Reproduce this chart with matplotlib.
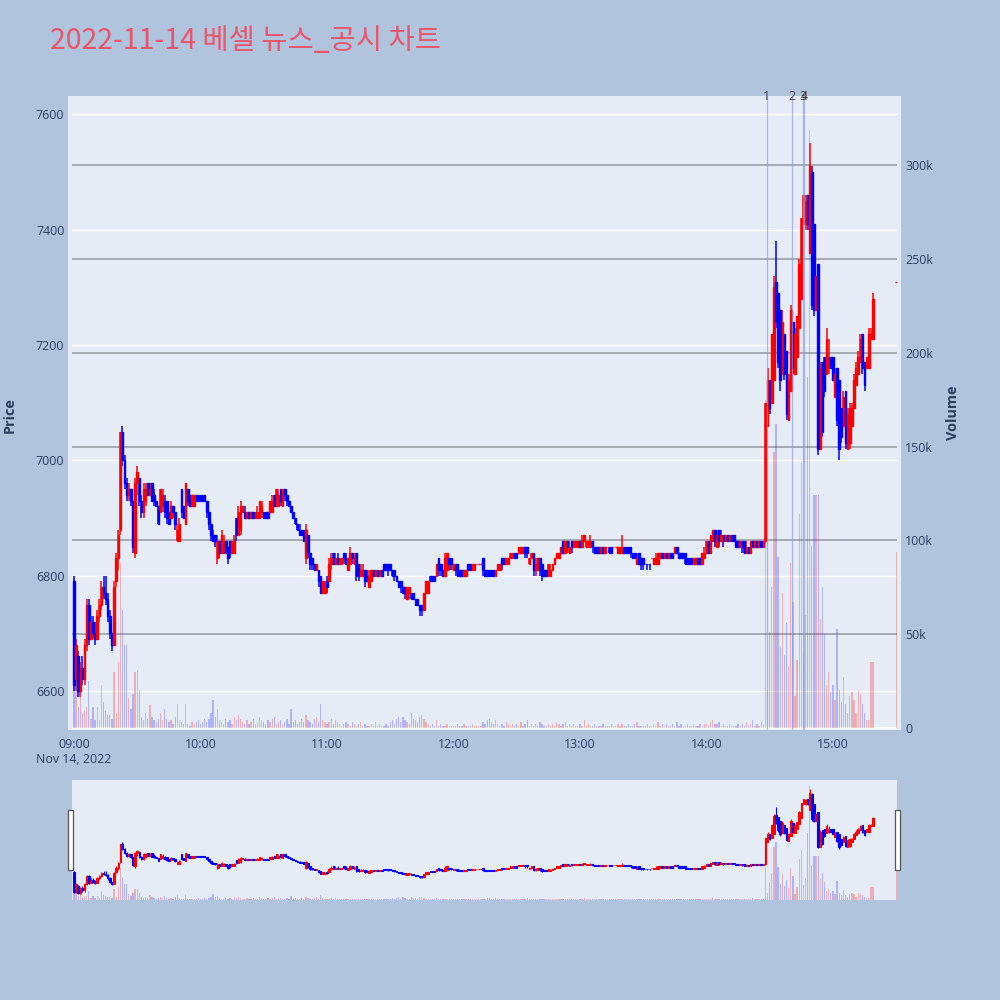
import matplotlib
matplotlib.use("Agg")
import matplotlib.pyplot as plt
from matplotlib.patches import Rectangle
import matplotlib.transforms as mtransforms

# ---------------- data ----------------
title_text = "2022-11-14 베셀 뉴스_공시 차트"

# minutes after 09:00 (1-minute candles 09:00-15:19, closing auction 15:30)
minutes = list(range(380)) + [390]

opens = [
    6790, 6620, 6660, 6600, 6640, 6620, 6680, 6750, 6690, 6720,
    6700, 6690, 6730, 6750, 6780, 6770, 6760, 6730, 6700, 6680,
    6790, 6830, 6880, 7050, 7000, 6960, 6940, 6950, 6930, 6840,
    6960, 6970, 6930, 6910, 6930, 6960, 6940, 6960, 6940, 6930,
    6920, 6910, 6920, 6930, 6930, 6910, 6900, 6920, 6910, 6860,
    6860, 6950, 6920, 6890, 6950, 6940, 6920, 6920, 6940, 6940,
    6940, 6940, 6940, 6930, 6910, 6890, 6870, 6870, 6830, 6860,
    6840, 6840, 6860, 6850, 6860, 6840, 6840, 6900, 6870, 6880,
    6910, 6910, 6900, 6910, 6900, 6910, 6900, 6900, 6900, 6910,
    6910, 6910, 6910, 6910, 6910, 6940, 6920, 6920, 6950, 6920,
    6950, 6940, 6930, 6920, 6910, 6900, 6890, 6880, 6880, 6880,
    6830, 6870, 6840, 6830, 6820, 6810, 6810, 6800, 6770, 6770,
    6790, 6790, 6820, 6840, 6820, 6830, 6820, 6820, 6840, 6830,
    6810, 6820, 6840, 6820, 6840, 6820, 6800, 6800, 6810, 6800,
    6780, 6790, 6810, 6800, 6810, 6800, 6810, 6820, 6820, 6820,
    6820, 6810, 6810, 6800, 6790, 6790, 6780, 6780, 6760, 6770,
    6770, 6770, 6760, 6760, 6750, 6750, 6740, 6770, 6770, 6800,
    6800, 6800, 6800, 6830, 6820, 6810, 6800, 6810, 6830, 6830,
    6810, 6820, 6820, 6810, 6810, 6800, 6800, 6820, 6820, 6810,
    6810, 6820, 6820, 6820, 6830, 6810, 6810, 6810, 6810, 6810,
    6800, 6810, 6810, 6830, 6830, 6820, 6820, 6830, 6830, 6840,
    6840, 6840, 6840, 6840, 6850, 6850, 6820, 6830, 6840, 6810,
    6810, 6830, 6820, 6810, 6810, 6800, 6800, 6810, 6820, 6830,
    6830, 6840, 6860, 6840, 6860, 6840, 6860, 6850, 6850, 6850,
    6860, 6850, 6860, 6850, 6850, 6850, 6860, 6850, 6850, 6850,
    6840, 6850, 6840, 6850, 6850, 6850, 6850, 6850, 6840, 6840,
    6840, 6850, 6850, 6850, 6850, 6840, 6840, 6820, 6840, 6830,
    6830, 6820, 6820, 6820, 6830, 6820, 6820, 6820, 6830, 6840,
    6830, 6840, 6830, 6840, 6840, 6840, 6850, 6840, 6840, 6840,
    6840, 6830, 6830, 6830, 6820, 6820, 6830, 6830, 6820, 6830,
    6840, 6860, 6840, 6860, 6880, 6850, 6880, 6860, 6870, 6860,
    6870, 6860, 6870, 6870, 6860, 6860, 6850, 6860, 6860, 6840,
    6850, 6840, 6860, 6850, 6860, 6850, 6860, 6850, 6860, 7060,
    7140, 7100, 7140, 7310, 7290, 7260, 7150, 7220, 7190, 7070,
    7120, 7240, 7150, 7180, 7230, 7280, 7410, 7410, 7460, 7360,
    7500, 7410, 7260, 7340, 7020, 7170, 7180, 7150, 7160, 7180,
    7180, 7110, 7160, 7140, 7090, 7060, 7120, 7020, 7030, 7060,
    7090, 7130, 7150, 7170, 7220, 7170, 7160, 7160, 7210, 7210,
    7310,
]

highs = [
    6800, 6690, 6670, 6650, 6660, 6690, 6760, 6760, 6730, 6730,
    6720, 6740, 6760, 6790, 6800, 6800, 6770, 6740, 6700, 6790,
    6840, 6880, 7050, 7060, 7010, 6970, 6960, 6950, 6930, 6970,
    6990, 6970, 6940, 6960, 6960, 6960, 6960, 6960, 6950, 6930,
    6920, 6950, 6950, 6940, 6930, 6910, 6930, 6920, 6910, 6890,
    6900, 6950, 6920, 6960, 6950, 6940, 6940, 6940, 6940, 6940,
    6940, 6940, 6940, 6930, 6910, 6890, 6880, 6870, 6870, 6860,
    6880, 6870, 6860, 6850, 6860, 6860, 6870, 6900, 6920, 6930,
    6920, 6920, 6910, 6910, 6910, 6910, 6910, 6920, 6930, 6930,
    6910, 6910, 6910, 6930, 6940, 6940, 6950, 6950, 6950, 6950,
    6950, 6940, 6930, 6920, 6910, 6900, 6890, 6890, 6880, 6880,
    6890, 6870, 6840, 6830, 6820, 6820, 6810, 6800, 6790, 6790,
    6800, 6830, 6840, 6840, 6840, 6840, 6830, 6830, 6840, 6840,
    6830, 6850, 6840, 6840, 6840, 6820, 6820, 6820, 6810, 6810,
    6810, 6810, 6810, 6810, 6810, 6810, 6810, 6820, 6820, 6820,
    6820, 6810, 6810, 6800, 6790, 6790, 6780, 6780, 6780, 6780,
    6770, 6770, 6760, 6760, 6750, 6750, 6770, 6790, 6790, 6800,
    6800, 6800, 6820, 6830, 6820, 6810, 6840, 6840, 6830, 6830,
    6820, 6820, 6820, 6810, 6810, 6810, 6810, 6820, 6820, 6820,
    6820, 6820, 6820, 6820, 6830, 6810, 6810, 6810, 6810, 6810,
    6810, 6820, 6820, 6830, 6830, 6830, 6830, 6840, 6840, 6840,
    6840, 6850, 6850, 6850, 6850, 6850, 6830, 6840, 6840, 6830,
    6830, 6830, 6820, 6810, 6810, 6820, 6820, 6820, 6830, 6840,
    6840, 6850, 6860, 6860, 6860, 6860, 6860, 6860, 6860, 6860,
    6860, 6870, 6870, 6860, 6860, 6870, 6860, 6850, 6850, 6850,
    6850, 6850, 6850, 6850, 6850, 6850, 6850, 6850, 6850, 6850,
    6870, 6850, 6850, 6850, 6850, 6840, 6840, 6840, 6840, 6830,
    6830, 6820, 6820, 6820, 6830, 6830, 6840, 6840, 6840, 6840,
    6840, 6840, 6840, 6840, 6840, 6850, 6850, 6840, 6840, 6840,
    6840, 6830, 6830, 6830, 6830, 6830, 6830, 6830, 6840, 6850,
    6860, 6860, 6870, 6880, 6880, 6880, 6880, 6880, 6870, 6870,
    6870, 6870, 6870, 6870, 6860, 6860, 6860, 6860, 6860, 6860,
    6850, 6860, 6860, 6860, 6860, 6860, 6860, 6860, 7100, 7160,
    7140, 7220, 7320, 7380, 7290, 7260, 7260, 7220, 7190, 7150,
    7270, 7240, 7230, 7250, 7350, 7420, 7460, 7460, 7460, 7550,
    7510, 7410, 7320, 7340, 7170, 7170, 7180, 7230, 7210, 7180,
    7180, 7160, 7160, 7140, 7090, 7120, 7120, 7090, 7100, 7100,
    7150, 7170, 7190, 7220, 7220, 7170, 7180, 7230, 7230, 7290,
    7310,
]

lows = [
    6600, 6600, 6590, 6590, 6610, 6610, 6670, 6680, 6690, 6690,
    6680, 6690, 6720, 6740, 6760, 6750, 6720, 6690, 6670, 6680,
    6780, 6810, 6870, 6990, 6950, 6930, 6930, 6920, 6840, 6830,
    6940, 6920, 6900, 6900, 6920, 6940, 6940, 6930, 6920, 6920,
    6890, 6910, 6910, 6900, 6890, 6890, 6900, 6900, 6880, 6860,
    6860, 6900, 6900, 6890, 6920, 6920, 6920, 6920, 6930, 6930,
    6930, 6930, 6930, 6900, 6880, 6860, 6860, 6850, 6820, 6830,
    6840, 6840, 6840, 6820, 6830, 6840, 6840, 6860, 6870, 6870,
    6910, 6900, 6900, 6900, 6900, 6900, 6900, 6900, 6900, 6900,
    6900, 6900, 6900, 6910, 6910, 6920, 6920, 6920, 6920, 6920,
    6930, 6920, 6920, 6910, 6900, 6890, 6880, 6870, 6870, 6860,
    6820, 6830, 6810, 6810, 6810, 6810, 6780, 6770, 6770, 6770,
    6770, 6790, 6810, 6820, 6820, 6820, 6820, 6820, 6820, 6820,
    6810, 6820, 6820, 6820, 6790, 6790, 6800, 6800, 6780, 6790,
    6780, 6790, 6800, 6800, 6800, 6800, 6800, 6810, 6810, 6800,
    6810, 6800, 6790, 6790, 6780, 6770, 6770, 6760, 6760, 6760,
    6760, 6760, 6750, 6750, 6730, 6730, 6740, 6770, 6770, 6790,
    6790, 6790, 6800, 6800, 6800, 6800, 6800, 6810, 6810, 6810,
    6810, 6800, 6800, 6800, 6800, 6800, 6800, 6810, 6810, 6810,
    6810, 6820, 6820, 6820, 6800, 6800, 6800, 6800, 6800, 6800,
    6800, 6810, 6810, 6810, 6820, 6820, 6820, 6830, 6830, 6830,
    6830, 6840, 6840, 6840, 6830, 6830, 6820, 6830, 6800, 6800,
    6810, 6800, 6790, 6800, 6800, 6800, 6800, 6810, 6820, 6830,
    6830, 6840, 6840, 6840, 6840, 6840, 6840, 6850, 6850, 6850,
    6850, 6850, 6860, 6850, 6850, 6850, 6840, 6840, 6840, 6840,
    6840, 6840, 6840, 6850, 6840, 6840, 6850, 6850, 6840, 6840,
    6840, 6840, 6840, 6840, 6830, 6830, 6830, 6820, 6820, 6810,
    6810, 6820, 6810, 6810, 6830, 6820, 6820, 6820, 6830, 6830,
    6830, 6830, 6830, 6830, 6830, 6840, 6840, 6830, 6830, 6830,
    6820, 6820, 6820, 6820, 6820, 6820, 6820, 6820, 6820, 6830,
    6840, 6840, 6840, 6860, 6850, 6850, 6850, 6860, 6850, 6860,
    6860, 6860, 6860, 6860, 6850, 6850, 6850, 6840, 6840, 6840,
    6840, 6840, 6850, 6850, 6850, 6850, 6850, 6850, 6860, 7060,
    7080, 7100, 7140, 7230, 7160, 7120, 7150, 7140, 7070, 7070,
    7120, 7150, 7150, 7180, 7230, 7280, 7410, 7400, 7400, 7360,
    7260, 7250, 7260, 7010, 7020, 7040, 7110, 7150, 7150, 7160,
    7140, 7110, 7060, 7000, 7030, 7060, 7020, 7020, 7020, 7060,
    7090, 7130, 7150, 7170, 7150, 7120, 7160, 7160, 7210, 7210,
    7310,
]

closes = [
    6610, 6680, 6600, 6640, 6620, 6680, 6750, 6690, 6720, 6700,
    6690, 6730, 6750, 6780, 6770, 6760, 6730, 6700, 6680, 6780,
    6830, 6870, 7050, 7000, 6960, 6940, 6950, 6930, 6850, 6960,
    6980, 6930, 6910, 6950, 6950, 6940, 6950, 6930, 6930, 6920,
    6890, 6950, 6940, 6910, 6900, 6890, 6920, 6910, 6890, 6880,
    6890, 6910, 6900, 6960, 6930, 6920, 6940, 6940, 6930, 6930,
    6930, 6930, 6930, 6910, 6890, 6870, 6860, 6860, 6860, 6840,
    6870, 6860, 6840, 6830, 6840, 6860, 6860, 6870, 6910, 6920,
    6920, 6900, 6910, 6900, 6910, 6900, 6910, 6910, 6930, 6920,
    6900, 6900, 6900, 6930, 6930, 6920, 6950, 6940, 6930, 6950,
    6940, 6930, 6920, 6910, 6900, 6890, 6880, 6870, 6870, 6860,
    6880, 6840, 6820, 6820, 6810, 6820, 6790, 6770, 6790, 6780,
    6780, 6820, 6830, 6820, 6830, 6820, 6830, 6830, 6830, 6820,
    6830, 6840, 6830, 6830, 6800, 6800, 6810, 6810, 6790, 6790,
    6800, 6810, 6800, 6810, 6800, 6810, 6800, 6810, 6810, 6810,
    6810, 6800, 6800, 6790, 6780, 6780, 6770, 6770, 6780, 6780,
    6760, 6760, 6750, 6750, 6740, 6740, 6770, 6790, 6790, 6790,
    6790, 6790, 6820, 6810, 6810, 6800, 6830, 6840, 6820, 6820,
    6820, 6810, 6800, 6800, 6800, 6810, 6810, 6810, 6810, 6820,
    6820, 6820, 6820, 6820, 6810, 6800, 6800, 6800, 6800, 6800,
    6810, 6820, 6820, 6820, 6820, 6830, 6830, 6840, 6840, 6830,
    6830, 6850, 6850, 6850, 6840, 6840, 6830, 6840, 6810, 6820,
    6830, 6810, 6800, 6800, 6800, 6820, 6810, 6820, 6830, 6840,
    6840, 6850, 6840, 6860, 6850, 6850, 6850, 6860, 6860, 6860,
    6850, 6860, 6870, 6860, 6860, 6860, 6850, 6840, 6840, 6840,
    6850, 6840, 6850, 6850, 6840, 6840, 6850, 6850, 6850, 6850,
    6850, 6840, 6840, 6840, 6840, 6830, 6830, 6830, 6820, 6820,
    6820, 6820, 6820, 6820, 6830, 6830, 6830, 6840, 6840, 6830,
    6840, 6830, 6840, 6830, 6830, 6850, 6840, 6830, 6830, 6830,
    6820, 6820, 6820, 6820, 6830, 6830, 6820, 6820, 6840, 6840,
    6860, 6840, 6870, 6880, 6860, 6870, 6860, 6870, 6860, 6870,
    6860, 6870, 6860, 6860, 6850, 6850, 6860, 6850, 6840, 6850,
    6840, 6860, 6850, 6860, 6850, 6860, 6850, 6860, 7100, 7140,
    7090, 7220, 7300, 7240, 7170, 7140, 7240, 7150, 7080, 7140,
    7260, 7160, 7220, 7250, 7340, 7420, 7460, 7450, 7410, 7510,
    7270, 7260, 7320, 7020, 7160, 7050, 7120, 7210, 7180, 7160,
    7140, 7150, 7070, 7020, 7040, 7110, 7030, 7080, 7090, 7090,
    7140, 7160, 7180, 7210, 7160, 7130, 7180, 7220, 7220, 7280,
    7310,
]

# traded volume, thousands of shares
volumes_k = [
    80, 19, 11, 19, 8, 9, 11, 25, 5, 11,
    4, 11, 4, 23, 14, 9, 7, 7, 5, 30,
    8, 35, 88, 63, 44, 44, 16, 10, 18, 30,
    31, 20, 6, 4, 8, 5, 12, 6, 4, 3,
    5, 8, 4, 10, 5, 3, 4, 2, 6, 13,
    4, 3, 2, 13, 2, 1, 3, 2, 3, 4,
    2, 3, 5, 3, 5, 8, 15, 6, 10, 4,
    3, 2, 5, 3, 4, 2, 6, 4, 7, 5,
    3, 2, 4, 2, 3, 5, 2, 3, 6, 4,
    3, 2, 4, 3, 5, 6, 2, 3, 4, 2,
    3, 5, 2, 10, 3, 4, 2, 3, 5, 3,
    7, 4, 3, 2, 5, 6, 3, 13, 4, 3,
    2, 3, 5, 2, 4, 3, 2, 1, 2, 3,
    2, 1, 3, 2, 1, 2, 3, 1, 2, 1,
    1, 2, 1, 3, 1, 2, 1, 1, 2, 1,
    3, 4, 2, 5, 6, 3, 6, 4, 3, 2,
    8, 5, 4, 3, 6, 7, 5, 3, 2, 1,
    2, 1, 4, 1, 2, 1, 1, 2, 1, 1,
    1, 1, 2, 1, 1, 2, 1, 1, 1, 2,
    1, 1, 1, 1, 3, 2, 4, 5, 3, 2,
    4, 2, 1, 2, 1, 3, 2, 1, 2, 1,
    2, 1, 3, 1, 2, 4, 1, 2, 1, 2,
    1, 3, 2, 1, 1, 2, 1, 2, 1, 3,
    2, 1, 2, 3, 1, 2, 1, 2, 1, 1,
    2, 1, 4, 1, 2, 1, 1, 2, 1, 1,
    1, 2, 1, 1, 1, 2, 1, 1, 2, 1,
    2, 1, 1, 2, 1, 1, 2, 3, 1, 1,
    1, 1, 2, 1, 1, 2, 1, 3, 1, 2,
    1, 2, 1, 1, 2, 1, 3, 1, 2, 1,
    1, 2, 1, 1, 2, 1, 1, 2, 1, 2,
    2, 1, 3, 4, 2, 2, 3, 1, 2, 1,
    1, 2, 1, 1, 1, 2, 1, 2, 1, 3,
    1, 2, 4, 1, 2, 1, 3, 2, 175, 20,
    51, 75, 147, 162, 91, 43, 72, 39, 56, 33,
    88, 67, 17, 36, 114, 141, 40, 60, 187, 319,
    97, 124, 124, 124, 58, 75, 50, 23, 30, 19,
    23, 15, 53, 20, 14, 27, 13, 8, 17, 19,
    15, 8, 20, 18, 13, 8, 4, 4, 35, 35,
    94,
]

# news / disclosure markers (minutes after 09:00)
news_minutes = [328.6, 340.4, 345.9, 346.3]
news_labels = ["1", "2", "3", "4"]

price_ticks = [6600, 6800, 7000, 7200, 7400, 7600]
volume_ticks = [0, 50, 100, 150, 200, 250, 300]
volume_tick_labels = ["0", "50k", "100k", "150k", "200k", "250k", "300k"]
time_ticks = [0, 60, 120, 180, 240, 300, 360]
time_tick_labels = ["09:00\nNov 14, 2022", "10:00", "11:00", "12:00", "13:00", "14:00", "15:00"]

# ---------------- style ----------------
BG = "#B0C4DE"
PLOT_BG = "#E5ECF6"
UP = "#FF0000"
DOWN = "#0000FF"
TICK_COLOR = "#2a3f5f"
FONT = ["Open Sans", "DejaVu Sans"]
XLIM = (-0.95, 390.4)
PRICE_LIM = (6532.4, 7631.9)
VOL_LIM = (-1.07, 336.9)

n = len(minutes)
highs = [max(h, o, c) for h, o, c in zip(highs, opens, closes)]
lows = [min(l, o, c) for l, o, c in zip(lows, opens, closes)]

# plotly-like direction: ties decided by previous close
up = []
for i in range(n):
    o, c = opens[i], closes[i]
    if c > o:
        up.append(True)
    elif c < o:
        up.append(False)
    else:
        if i == 0:
            up.append(False)
        elif c > closes[i - 1]:
            up.append(True)
        elif c < closes[i - 1]:
            up.append(False)
        else:
            up.append(up[-1])
colors = [UP if u else DOWN for u in up]
vol_colors = [(1, 0, 0, 0.26) if u else (0, 0, 1, 0.24) for u in up]

W = H = 1000.0


def frect(x0, y0, x1, y1):
    return [x0 / W, 1 - y1 / H, (x1 - x0) / W, (y1 - y0) / H]


fig = plt.figure(figsize=(10, 10), dpi=100)
fig.patch.set_facecolor(BG)

# main plot background panel
fig.add_artist(Rectangle((68 / W, 1 - 730 / H), (901 - 68) / W, (730 - 96) / H,
                         transform=fig.transFigure, facecolor=PLOT_BG,
                         edgecolor="none", zorder=-5))


def build_stack(r, main=True):
    axp = fig.add_axes(r)
    axp.set_facecolor(PLOT_BG if not main else "none")
    axp.set_xlim(*XLIM)
    axp.set_ylim(*PRICE_LIM)
    for s in axp.spines.values():
        s.set_visible(False)
    axv = axp.twinx()
    axv.set_ylim(*VOL_LIM)
    for s in axv.spines.values():
        s.set_visible(False)
    axc = fig.add_axes(r, sharex=axp, sharey=axp)
    axc.patch.set_visible(False)
    axc.axis("off")
    return axp, axv, axc


def draw_data(axv, axc, body_lw, wick_lw):
    axv.bar(minutes, volumes_k, width=0.62, color=vol_colors, linewidth=0, zorder=3)
    bottoms = [min(o, c) for o, c in zip(opens, closes)]
    heights = [abs(c - o) for o, c in zip(opens, closes)]
    axc.vlines(minutes, lows, highs, colors=colors, linewidth=wick_lw, zorder=3)
    axc.bar(minutes, heights, bottom=bottoms, width=0.72, color=colors,
            edgecolor=colors, linewidth=body_lw, zorder=4)


# ---------------- main chart ----------------
ax_p, ax_v, ax_c = build_stack(frect(72, 96, 897, 730), main=True)

ax_p.set_yticks(price_ticks)
ax_p.set_yticklabels([str(t) for t in price_ticks])
ax_p.grid(axis="y", color="white", linewidth=1.0)
ax_p.grid(axis="x", visible=False)
ax_p.set_axisbelow(True)
ax_p.set_xticks(time_ticks)
ax_p.set_xticklabels(time_tick_labels, linespacing=1.25)
ax_p.tick_params(axis="y", length=0, pad=5.5, labelsize=8.9, labelcolor=TICK_COLOR)
ax_p.tick_params(axis="x", length=0, pad=5.5, labelsize=8.9, labelcolor=TICK_COLOR)
for lab in ax_p.get_xticklabels() + ax_p.get_yticklabels():
    lab.set_family(FONT)

ax_v.set_yticks(volume_ticks)
ax_v.set_yticklabels(volume_tick_labels)
ax_v.tick_params(axis="y", length=0, pad=6, labelsize=8.9, labelcolor=TICK_COLOR)
for lab in ax_v.get_yticklabels():
    lab.set_family(FONT)
for t in volume_ticks[1:]:
    ax_v.axhline(t, color="#94969e", linewidth=1.1, zorder=1)
ax_v.axhline(0, color="white", linewidth=1.6, zorder=1)

draw_data(ax_v, ax_c, body_lw=1.0, wick_lw=1.1)

# news marker lines and labels
label_tf = mtransforms.blended_transform_factory(ax_c.transData, ax_c.transAxes)
for m, lab in zip(news_minutes, news_labels):
    ax_c.axvline(m, color="#8d9de6", linewidth=0.9, alpha=0.7, zorder=6)
    ax_c.text(m, 1.0, lab, transform=label_tf, ha="center", va="center",
              fontsize=8.9, color="#444444", family=FONT, zorder=7, clip_on=False)

# ---------------- range slider ----------------
s_p, s_v, s_c = build_stack(frect(72, 780, 897, 900), main=False)
for a in (s_p, s_v):
    a.set_xticks([])
    a.set_yticks([])
draw_data(s_v, s_c, body_lw=0.8, wick_lw=0.8)
for hx in (68, 895):
    fig.add_artist(Rectangle((hx / W, 1 - 870 / H), 5 / W, 60 / H,
                             transform=fig.transFigure, facecolor="white",
                             edgecolor="#555555", linewidth=0.9, zorder=10))

# ---------------- texts ----------------
fig.text(50 / W, 1 - 41 / H, title_text, ha="left", va="center", fontsize=20.5,
         color="#EA5569", family=["Noto Sans CJK KR", "DejaVu Sans"])
fig.text(10 / W, 1 - 415 / H, "Price", rotation=90, ha="center", va="center",
         fontsize=10.4, fontweight="bold", color=TICK_COLOR, family=FONT)
fig.text(953 / W, 1 - 413 / H, "Volume", rotation=90, ha="center", va="center",
         fontsize=10.4, fontweight="bold", color=TICK_COLOR, family=FONT)

fig.savefig("out.png", dpi=100, facecolor=BG)
